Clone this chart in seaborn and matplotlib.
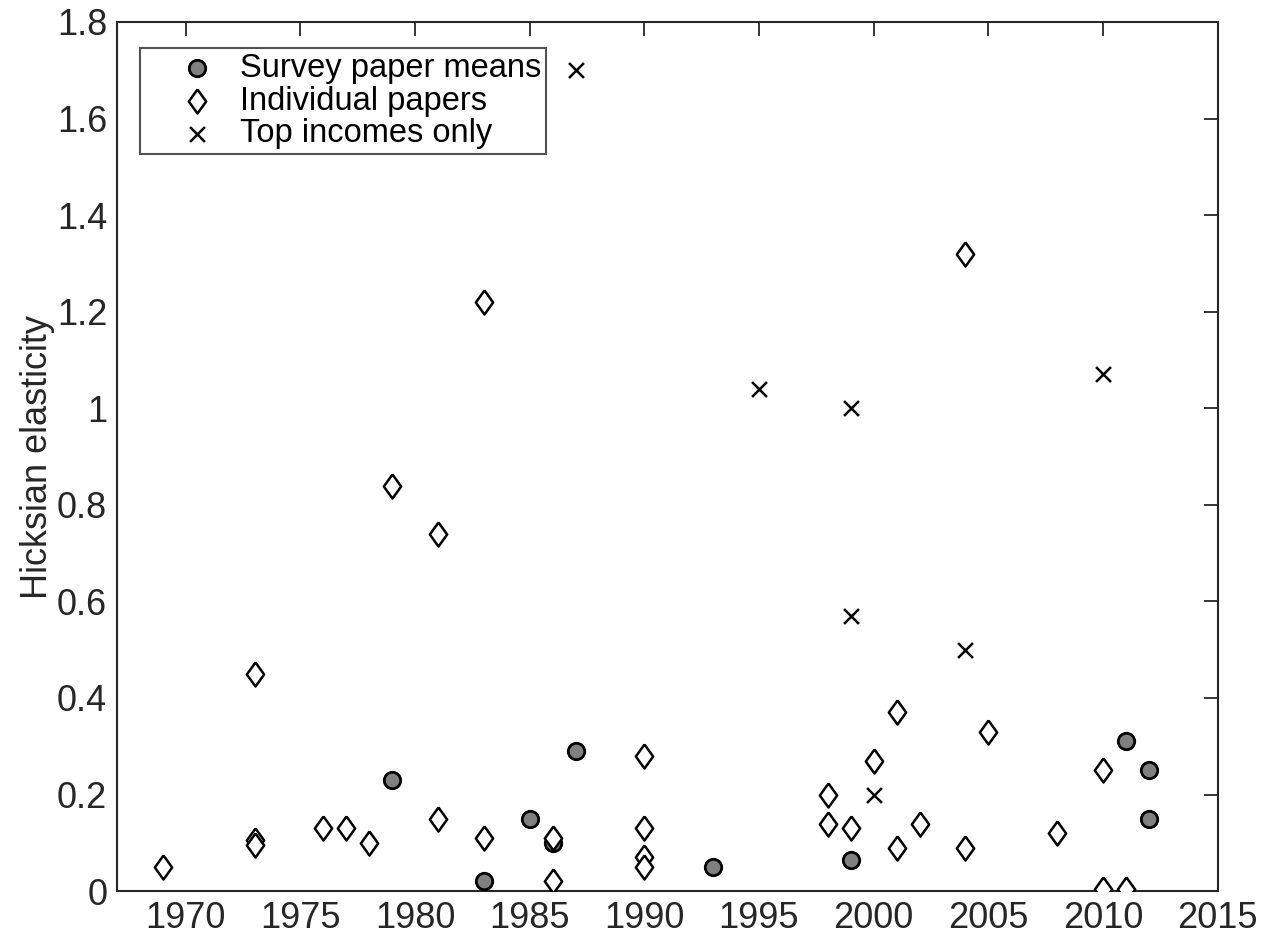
import matplotlib
matplotlib.use('Agg')
import matplotlib.pyplot as plt
from matplotlib.ticker import FuncFormatter
import seaborn as sns

# Survey paper means
survey_year = [1979, 1983, 1985, 1986, 1987, 1993, 1999, 2011, 2012, 2012]
survey_val = [0.23, 0.02, 0.15, 0.10, 0.29, 0.05, 0.065, 0.31, 0.25, 0.15]

# Individual papers
indiv_year = [1969, 1973, 1973, 1973, 1976, 1977, 1978, 1979, 1981, 1981,
              1983, 1983, 1986, 1986, 1990, 1990, 1990, 1990, 1998, 1998,
              1999, 2000, 2001, 2001, 2002, 2004, 2004, 2005, 2008, 2010,
              2010, 2011]
indiv_val = [0.05, 0.45, 0.105, 0.095, 0.13, 0.13, 0.10, 0.84, 0.74, 0.15,
             1.22, 0.11, 0.11, 0.02, 0.28, 0.13, 0.07, 0.05, 0.20, 0.14,
             0.13, 0.27, 0.37, 0.09, 0.14, 1.32, 0.09, 0.33, 0.12, 0.25,
             0.005, 0.005]

# Top incomes only
top_year = [1987, 1995, 1999, 1999, 2000, 2004, 2010]
top_val = [1.70, 1.04, 1.00, 0.57, 0.20, 0.50, 1.07]

sns.set_style('white')
plt.rcParams['font.family'] = ['Liberation Sans', 'DejaVu Sans']
axcol = '#262626'

# matlab-like diamond (a bit taller than wide)
diamond = [(0, 1), (0.72, 0), (0, -1), (-0.72, 0), (0, 1)]

fig = plt.figure(figsize=(12.71, 9.40), dpi=100)
ax = fig.add_axes([0.092, 0.052, 0.866, 0.9246])

sns.scatterplot(x=survey_year, y=survey_val, ax=ax, marker='o', s=140,
                color='#808080', edgecolor='black', linewidth=2.0,
                label='Survey paper means', zorder=3)
sns.scatterplot(x=indiv_year, y=indiv_val, ax=ax, marker=diamond, s=300,
                color='white', edgecolor='black', linewidth=1.8,
                label='Individual papers', zorder=3)
sns.scatterplot(x=top_year, y=top_val, ax=ax, marker='x', s=115,
                color='black', linewidth=1.8,
                label='Top incomes only', zorder=3)

ax.set_xlim(1967, 2015)
ax.set_ylim(0, 1.8)
ax.set_xticks(range(1970, 2016, 5))
ax.set_yticks([i * 0.2 for i in range(10)])
ax.yaxis.set_major_formatter(FuncFormatter(lambda v, p: '%g' % round(v, 1)))
ax.set_ylabel('Hicksian elasticity', fontsize=26, color=axcol, labelpad=1)
ax.set_xlabel('')

ax.tick_params(direction='in', length=10, width=1.3, colors=axcol,
               labelsize=26, top=True, right=True, pad=7)
for sp in ax.spines.values():
    sp.set_visible(True)
    sp.set_color(axcol)
    sp.set_linewidth(1.5)

leg = ax.legend(loc='upper left', bbox_to_anchor=(0.021, 0.970), fontsize=23.5,
                frameon=True, fancybox=False, edgecolor=axcol,
                borderpad=0.15, labelspacing=0.05, handletextpad=-0.3,
                handlelength=3.2, borderaxespad=0)
leg.get_frame().set_linewidth(1.5)
for t in leg.get_texts():
    t.set_color('black')

fig.savefig('out.png', dpi=100)
